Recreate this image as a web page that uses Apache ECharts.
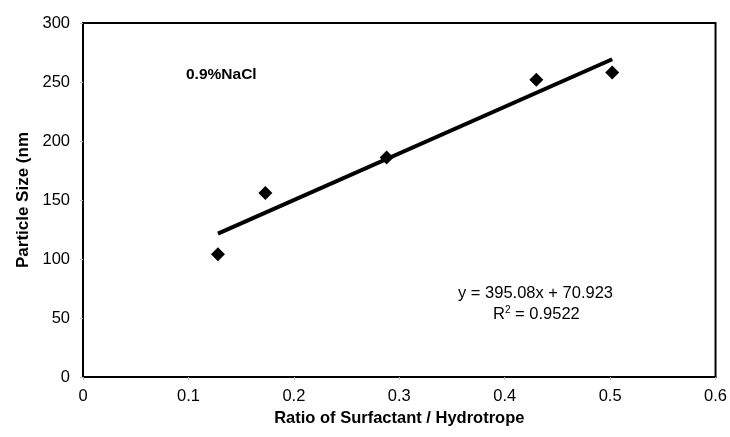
<!DOCTYPE html>
<html>
<head>
<meta charset="utf-8">
<script src="https://cdn.jsdelivr.net/npm/echarts@6/dist/echarts.min.js"></script>
<style>
  html, body { margin: 0; padding: 0; background: #fff; }
  #chart { width: 730px; height: 437px; }
</style>
</head>
<body>
<div id="chart"></div>
<script>
// measured points
var ratio = [0.128, 0.173, 0.288, 0.430, 0.502];
var sizeNm = [104, 156, 186, 252, 258];
// trend line given on the chart
var slope = 395.08;
var intercept = 70.923;
var xTicks = [0, 0.1, 0.2, 0.3, 0.4, 0.5, 0.6];
var yTicks = [0, 50, 100, 150, 200, 250, 300];

var points = ratio.map(function (x, i) { return [x, sizeNm[i]]; });
var xStart = ratio[0], xEnd = ratio[ratio.length - 1];
var trend = [[xStart, slope * xStart + intercept], [xEnd, slope * xEnd + intercept]];

var font = 'Liberation Sans, Arial, sans-serif';
var chart = echarts.init(document.getElementById('chart'));
chart.setOption({
    animation: false,
    grid: { left: 83, right: 14, top: 23, bottom: 60, show: true, borderColor: '#000', borderWidth: 2 },
    xAxis: {
        type: 'value', min: 0, max: 0.6, interval: 0.1,
        name: 'Ratio of Surfactant / Hydrotrope', nameLocation: 'middle', nameGap: 32,
        nameTextStyle: { fontFamily: font, fontSize: 16.5, fontWeight: 'bold', color: '#000' },
        axisLine: { lineStyle: { color: '#000', width: 2 } },
        axisTick: { show: true, length: 3, lineStyle: { color: '#bbb' } },
        splitLine: { show: false },
        axisLabel: { fontFamily: font, fontSize: 16.5, color: '#000', margin: 11,
            formatter: function (v) { return String(+v.toFixed(1)); } }
    },
    yAxis: {
        type: 'value', min: 0, max: 300, interval: 50,
        name: 'Particle Size (nm', nameLocation: 'middle', nameGap: 51,
        nameTextStyle: { fontFamily: font, fontSize: 17, fontWeight: 'bold', color: '#000' },
        axisLine: { show: true, lineStyle: { color: '#000', width: 2 } },
        axisTick: { show: true, length: 3, lineStyle: { color: '#bbb' } },
        splitLine: { show: false },
        axisLabel: { fontFamily: font, fontSize: 16.5, color: '#000', margin: 13 }
    },
    graphic: [
        { type: 'text', left: 186, top: 67,
          style: { text: '0.9%NaCl', font: 'bold 15.5px ' + font, fill: '#000' } },
        { type: 'text', left: 458, top: 285,
          style: { text: 'y = 395.08x + 70.923', font: '16.5px ' + font, fill: '#000' } },
        { type: 'text', left: 493, top: 305,
          style: { text: '{a|R}{s|2}{a| = 0.9522}', fill: '#000',
            rich: { a: { font: '16.5px ' + font, fill: '#000' },
                    s: { font: '10px ' + font, fill: '#000', padding: [0, 0, 8, 0] } } } }
    ],
    series: [
        {
            type: 'line', data: trend, symbol: 'none', silent: true,
            lineStyle: { color: '#000', width: 4 }
        },
        {
            type: 'scatter', data: points, symbol: 'diamond', symbolSize: 14,
            itemStyle: { color: '#000', opacity: 1 }
        }
    ]
});
</script>
</body>
</html>
